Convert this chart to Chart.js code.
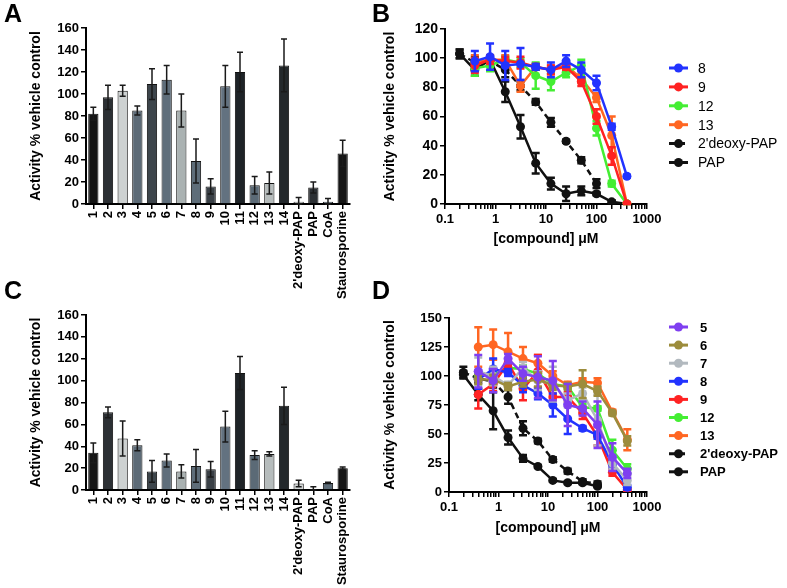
<!DOCTYPE html>
<html>
<head>
<meta charset="utf-8">
<script src="https://cdn.jsdelivr.net/npm/chart.js@4.4.1/dist/chart.umd.min.js"></script>
<style>
  html, body { margin: 0; padding: 0; background: #fff; }
  #wrap { position: relative; width: 787px; height: 588px; overflow: hidden; font-family: "Liberation Sans", Arial, sans-serif; }
  #wrap canvas { position: absolute; }
  .panel { position: absolute; font-weight: bold; font-size: 25px; line-height: 1; }
</style>
</head>
<body>
<div id="wrap">
  <canvas id="chartA" width="400" height="300" style="left:0;top:0"></canvas>
  <canvas id="chartC" width="400" height="298" style="left:0;top:290px"></canvas>
  <canvas id="chartB" width="412" height="290" style="left:375px;top:0"></canvas>
  <canvas id="chartD" width="412" height="298" style="left:375px;top:290px"></canvas>
  <div class="panel" style="left:4px;top:1px">A</div>
  <div class="panel" style="left:372px;top:1px">B</div>
  <div class="panel" style="left:4px;top:278px">C</div>
  <div class="panel" style="left:372px;top:278px">D</div>
</div>
<script>
// bar panels (A, C)
const barLabels = ['1', '2', '3', '4', '5', '6', '7', '8', '9', '10', '11', '12', '13', '14',
                   "2'deoxy-PAP", 'PAP', 'CoA', 'Staurosporine'];
const barColors = ['#151515', '#2c3034', '#cdd1d1', '#5d6b77', '#3d454b', '#5f6e7b', '#aab2b2', '#5e6d79', '#3a4046',
                   '#637280', '#1e2327', '#5b6a76', '#b6bcbc', '#23282b', '#d2d6d6', '#2c3034', '#5b6a76', '#151515'];
const activityA = [82, 97, 103, 85, 109, 113, 85, 39, 16, 107, 120, 17, 19, 126, 2, 15, 2, 46];
const errorA    = [6, 11, 5, 4, 14, 13, 15, 20, 7, 19, 18, 8, 10, 24, 4, 5, 3, 12];
const activityC = [34, 71, 47, 41, 17, 27, 17, 22, 19, 58, 107, 32, 33, 77, 6, 1, 6.5, 20];
const errorC    = [9, 5, 16, 5, 10, 6, 6, 15, 7, 14, 15, 4, 2, 17, 3, 2, 0.5, 1];

// concentrations (uM)
const concCompound = [0.39, 0.78, 1.56, 3.125, 6.25, 12.5, 25, 50, 100, 200, 400];
const concPapB     = [0.195, 0.39, 0.78, 1.56, 3.125, 6.25, 12.5, 25, 50, 100, 200, 400];
const concControl  = [0.195, 0.39, 0.78, 1.56, 3.125, 6.25, 12.5, 25, 50, 100];

// panel B
const b8     = [98, 101, 95, 96, 94, 92, 98, 92, 83, 53, 19];
const b8Err  = [7, 9, 10, 11, 2, 5, 4, 5, 5, 2, 1];
const b9     = [95, 99, 98, 97, 94, 92, 94, 84, 60, 33, 0];
const b9Err  = [5, 3, 3, 4, 2, 3, 2, 3, 5, 6, 1];
const b12    = [93, 95, 99, 97, 88, 84, 90, 95, 52, 14, 0];
const b12Err = [5, 4, 2, 3, 9, 6, 3, 4, 5, 2, 1];
const b13    = [97, 99, 99, 81, 94, 92, 95, 86, 73, 47, 0];
const b13Err = [5, 3, 3, 4, 2, 3, 3, 3, 3, 13, 1];
const bDeoxy    = [103, 97, 98, 92, 81, 70, 56, 43, 30, 14];
const bDeoxyErr = [3, 4, 3, 5, 3, 2, 3, 1, 2, 3];
const bPap      = [103, 92, 99, 77, 53, 28, 14, 7, 9, 7, 1.5, 0];
const bPapErr   = [3, 4, 3, 7, 8, 7, 4, 5, 3, 1, 1, 0];

// panel D
const d5     = [104, 96, 115, 102, 99, 96, 75, 72, 58, 30, 16];
const d5Err  = [14, 10, 4, 6, 18, 17, 18, 6, 20, 12, 4];
const d6     = [97, 97, 91, 95, 97, 92, 91, 93, 87, 68, 44];
const d6Err  = [4, 4, 3, 4, 6, 4, 3, 12, 4, 2, 4];
const d7     = [104, 100, 92, 107, 96, 93, 79, 85, 62, 25, 10];
const d7Err  = [12, 8, 3, 5, 8, 15, 6, 5, 22, 5, 4];
const d8     = [97, 106, 103, 92, 85, 75, 63, 55, 49, 24, 4];
const d8Err  = [8, 9, 3, 6, 5, 10, 13, 2, 3, 3, 2];
const d9     = [84, 93, 111, 89, 104, 82, 82, 68, 48, 17, 2];
const d9Err  = [12, 6, 3, 10, 14, 3, 4, 5, 8, 3, 1];
const d12    = [100, 101, 107, 106, 102, 93, 91, 73, 72, 36, 20];
const d12Err = [3, 3, 3, 3, 3, 3, 2, 3, 2, 9, 4];
const d13    = [125, 127, 121, 115, 111, 100, 92, 95, 94, 69, 45];
const d13Err = [17, 13, 16, 10, 7, 4, 3, 3, 4, 2, 9];
const dDeoxy    = [103, 98, 95, 82, 55, 44, 28, 18, 9, 7];
const dDeoxyErr = [5, 4, 5, 6, 6, 2, 2, 2, 2, 2];
const dPap      = [101, 84, 70, 47, 29, 22, 10, 8, 8, 5];
const dPapErr   = [3, 5, 16, 6, 3, 1, 1, 1, 1, 1];

Chart.defaults.font.family = "'Liberation Sans', Arial, sans-serif";
Chart.defaults.color = '#000';

// draw error bars using the y scale
function drawErrors(chart, index) {
    const ds = chart.data.datasets[index];
    if (!ds.errors) return;
    const meta = chart.getDatasetMeta(index);
    const yScale = chart.scales.y;
    const ctx = chart.ctx;
    const cap = ds.capWidth || 6;
    ctx.save();
    ctx.strokeStyle = ds.errorColor || ds.borderColor;
    ctx.lineWidth = ds.errorWidth || 1.5;
    meta.data.forEach((el, j) => {
        const e = ds.errors[j];
        if (!e) return;
        const raw = ds.data[j];
        const v = typeof raw === 'object' ? raw.y : raw;
        const top = yScale.getPixelForValue(v + e);
        const bot = yScale.getPixelForValue(Math.max(v - e, 0));
        ctx.beginPath();
        ctx.moveTo(el.x, top); ctx.lineTo(el.x, bot);
        ctx.moveTo(el.x - cap / 2, top); ctx.lineTo(el.x + cap / 2, top);
        ctx.moveTo(el.x - cap / 2, bot); ctx.lineTo(el.x + cap / 2, bot);
        ctx.stroke();
    });
    ctx.restore();
}

const errorBarPlugin = {
    id: 'errorBars',
    beforeDatasetDraw(chart, args) {
        if (chart.config.type === 'line') drawErrors(chart, args.index);
    },
    afterDatasetDraw(chart, args) {
        if (chart.config.type === 'bar') drawErrors(chart, args.index);
    }
};

// legend with line + dot symbols
const lineLegendPlugin = {
    id: 'lineLegend',
    afterDraw(chart, args, opts) {
        const ctx = chart.ctx;
        ctx.save();
        chart.data.datasets.forEach((ds, i) => {
            const y = opts.y + i * opts.gap;
            ctx.strokeStyle = ds.borderColor;
            ctx.lineWidth = 3;
            ctx.setLineDash(ds.borderDash || []);
            ctx.beginPath();
            ctx.moveTo(opts.x, y);
            ctx.lineTo(opts.x + 19, y);
            ctx.stroke();
            ctx.setLineDash([]);
            ctx.fillStyle = ds.borderColor;
            ctx.beginPath();
            ctx.arc(opts.x + 9.5, y, 4.5, 0, Math.PI * 2);
            ctx.fill();
            ctx.fillStyle = '#000';
            ctx.font = opts.font;
            ctx.textBaseline = 'middle';
            ctx.fillText(ds.label, opts.x + opts.textGap, y + 1);
        });
        ctx.restore();
    }
};

const tickGrid = { drawOnChartArea: false, color: '#000', tickLength: 5, lineWidth: 1.5 };
const axisBorder = { color: '#000', width: 2 };

function barChart(id, values, errors, padTop, xHeight) {
    return new Chart(document.getElementById(id), {
        type: 'bar',
        data: {
            labels: barLabels,
            datasets: [{
                data: values,
                errors: errors,
                backgroundColor: barColors,
                borderColor: '#111',
                borderWidth: 1,
                errorColor: '#1a1a1a',
                errorWidth: 1.5,
                capWidth: 6,
                barPercentage: 0.7,
                categoryPercentage: 1
            }]
        },
        options: {
            responsive: false,
            animation: false,
            layout: { padding: { left: 28, top: padTop, right: 50, bottom: 0 } },
            plugins: { legend: { display: false }, tooltip: { enabled: false } },
            scales: {
                x: {
                    grid: Object.assign({ offset: false }, tickGrid),
                    border: axisBorder,
                    ticks: { autoSkip: false, maxRotation: 90, minRotation: 90, padding: 2,
                             font: { size: 13, weight: 'bold' } },
                    afterFit: s => { s.height = xHeight; }
                },
                y: {
                    min: 0, max: 160,
                    ticks: { stepSize: 20, padding: 2, font: { size: 13, weight: 'bold' } },
                    grid: tickGrid,
                    border: axisBorder,
                    title: { display: true, text: 'Activity % vehicle control', padding: 0,
                             font: { size: 14, weight: 'bold' } },
                    afterFit: s => { s.width = 58; }
                }
            }
        },
        plugins: [errorBarPlugin]
    });
}

function pts(xs, ys) {
    return ys.map((v, i) => ({ x: xs[i], y: v }));
}

function series(label, xs, ys, errs, color, dashed) {
    return {
        label: label,
        data: pts(xs, ys),
        errors: errs,
        borderColor: color,
        backgroundColor: color,
        borderWidth: 2.5,
        borderDash: dashed ? [6, 4] : [],
        pointRadius: 4.5,
        pointBorderWidth: 0,
        errorWidth: 2.5,
        capWidth: 8,
        tension: 0
    };
}

function doseChart(id, datasets, cfg) {
    return new Chart(document.getElementById(id), {
        type: 'line',
        data: { datasets: datasets },
        options: {
            responsive: false,
            animation: false,
            layout: { padding: { left: 7, top: cfg.padTop, right: 140, bottom: cfg.padBottom } },
            plugins: {
                legend: { display: false },
                tooltip: { enabled: false },
                lineLegend: cfg.legend
            },
            scales: {
                x: {
                    type: 'logarithmic',
                    min: 0.1, max: 1000,
                    grid: tickGrid,
                    border: axisBorder,
                    afterBuildTicks: s => {
                        s.ticks = s.ticks.filter(t => {
                            const m = t.value / Math.pow(10, Math.floor(Math.log10(t.value) + 1e-9));
                            return Math.abs(m - Math.round(m)) < 1e-6;
                        });
                    },
                    ticks: {
                        autoSkip: false, maxRotation: 0, padding: 3,
                        font: { size: 13, weight: 'bold' },
                        callback: v => {
                            const l = Math.log10(v);
                            if (Math.abs(l - Math.round(l)) > 1e-6) return '';
                            return v < 1 ? v.toFixed(1) : String(Math.round(v));
                        }
                    },
                    title: { display: true, text: '[compound] \u03bcM', padding: { top: 0, bottom: cfg.titlePad },
                             font: { size: 14, weight: 'bold' } },
                    afterFit: s => { s.height = 46; }
                },
                y: {
                    min: 0, max: cfg.yMax,
                    ticks: { stepSize: cfg.yStep, padding: 2, font: { size: cfg.yFont, weight: 'bold' } },
                    grid: tickGrid,
                    border: axisBorder,
                    title: { display: true, text: 'Activity % vehicle control', padding: 0,
                             font: { size: 14, weight: 'bold' } },
                    afterFit: s => { s.width = cfg.yWidth; }
                }
            }
        },
        plugins: [errorBarPlugin, lineLegendPlugin]
    });
}

barChart('chartA', activityA, errorA, 28, 96);
barChart('chartC', activityC, errorC, 25, 98);

doseChart('chartB', [
    series('8', concCompound, b8, b8Err, '#2233ff'),
    series('9', concCompound, b9, b9Err, '#ff2222'),
    series('12', concCompound, b12, b12Err, '#44ee33'),
    series('13', concCompound, b13, b13Err, '#ff6622'),
    series("2'deoxy-PAP", concControl, bDeoxy, bDeoxyErr, '#111111', true),
    series('PAP', concPapB, bPap, bPapErr, '#111111')
], { padTop: 29, padBottom: 40, titlePad: 2, yMax: 120, yStep: 20, yFont: 14, yWidth: 63,
     legend: { x: 294, y: 68, gap: 18.9, textGap: 29, font: '14px "Liberation Sans", Arial, sans-serif' } });

doseChart('chartD', [
    series('5', concCompound, d5, d5Err, '#7f3ff0'),
    series('6', concCompound, d6, d6Err, '#9c8c3c'),
    series('7', concCompound, d7, d7Err, '#b2b9bf'),
    series('8', concCompound, d8, d8Err, '#2233ff'),
    series('9', concCompound, d9, d9Err, '#ff2222'),
    series('12', concCompound, d12, d12Err, '#44ee33'),
    series('13', concCompound, d13, d13Err, '#ff6622'),
    series("2'deoxy-PAP", concControl, dDeoxy, dDeoxyErr, '#111111', true),
    series('PAP', concControl, dPap, dPapErr, '#111111')
], { padTop: 28, padBottom: 50, titlePad: 1, yMax: 150, yStep: 25, yFont: 13, yWidth: 67,
     legend: { x: 294, y: 37, gap: 18.1, textGap: 31, font: 'bold 13px "Liberation Sans", Arial, sans-serif' } });
</script>
</body>
</html>
